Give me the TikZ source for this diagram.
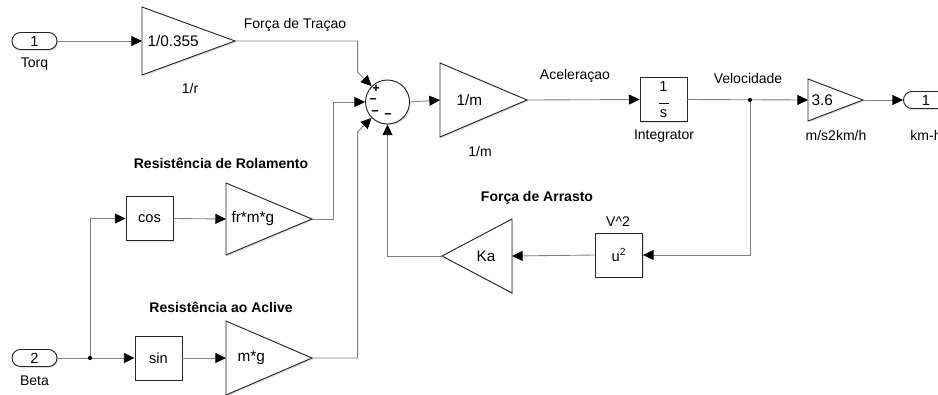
\documentclass[tikz,border=0pt]{standalone}
\usepackage{fontspec}
\setmainfont{Liberation Sans}
\usetikzlibrary{arrows.meta,shapes.misc,shadows,calc}

% ganho: nome, x, y, meia altura, comprimento, x do texto, texto
\newcommand{\gainblock}[7]{%
  \draw[blk] (#2,#3-#4) -- (#2+#5,#3) -- (#2,#3+#4) -- cycle;
  \coordinate (#1-in) at (#2,#3);
  \coordinate (#1-out) at (#2+#5,#3);
  \node[intxt, anchor=west] (#1) at (#6,#3) {#7};
}

\begin{document}
\begin{tikzpicture}[x=0.75pt, y=-0.75pt,
  >={Triangle[length=8pt, width=7.5pt, color=black]},
  sig/.style={draw=black!50, line width=0.65pt},
  blk/.style={draw=black!85, fill=white, line width=0.7pt,
    drop shadow={shadow xshift=1pt, shadow yshift=-1pt, fill=black!25}},
  lbl/.style={font=\fontsize{10.5}{12}\selectfont},
  ttl/.style={font=\fontsize{10.5}{12}\selectfont\bfseries},
  intxt/.style={font=\fontsize{11.5}{13}\selectfont, inner sep=1pt},
  box/.style={blk, minimum width=35.25pt, minimum height=33pt, inner sep=0pt,
    align=center, font=\fontsize{11}{12}\selectfont},
  port/.style={blk, rounded rectangle, minimum width=33.75pt, minimum height=12.75pt,
    inner sep=0pt, font=\fontsize{11}{12}\selectfont},
  sumblk/.style={blk, circle, minimum size=33pt, inner sep=0pt},
  sgn/.style={font=\fontsize{9.5}{10}\selectfont\bfseries, inner sep=0pt}]
\useasboundingbox (0,0) rectangle (938,394);

% portas
\node[port] (torq) at (34.5,41) {1};
\node[lbl] (torqlbl) at (34.5,64) {Torq};
\node[port] (beta) at (34.5,358) {2};
\node[lbl] (betalbl) at (34.5,381) {Beta};
\node[port] (kmh) at (926,100) {1};
\node[lbl] (kmhlbl) at (926,135) {km-h};

% ganhos
\gainblock{gr}{142}{41}{34}{93}{146}{1/0.355}
\node[lbl] (grlbl) at (190,88) {1/r};
\gainblock{gm}{440}{100}{37}{87}{455}{1/m}
\node[lbl] (gmlbl) at (480,151) {1/m};
\gainblock{gv}{808}{100}{21}{55}{810}{3.6}
\node[lbl] (gvlbl) at (836,135) {m/s2km/h};
\gainblock{gfr}{226}{219}{36}{86}{230}{fr*m*g}
\gainblock{gmg}{226}{358}{37}{86}{236}{m*g}
\gainblock{gka}{512}{256}{37}{-70}{475}{Ka}

% blocos
\node[box] (integ) at (663.5,99.5) {1\\[-3pt]\rule{7.5pt}{0.6pt}\\[-2pt]s};
\node[lbl] (integlbl) at (664,136) {Integrator};
\node[box] (cos) at (149.5,218.5) {cos};
\node[box] (sin) at (158.5,358) {sin};
\node[box] (usq) at (619,255) {u\textsuperscript{2}};
\node[lbl] (usqlbl) at (618,222) {V\textasciicircum 2};

% somador
\node[sumblk] (sum) at (387.5,102) {};
\node[sgn] (sp) at (376,89) {+};
\node[sgn] (sm1) at (373,101) {−};
\node[sgn] (sm2) at (375,113) {−};
\node[sgn] (sm3) at (388,116) {−};

% nomes dos sinais
\node[lbl] (ftr) at (295,25) {Força de Traçao};
\node[lbl] (acel) at (575,76) {Aceleraçao};
\node[lbl] (vel) at (748,78) {Velocidade};
\node[ttl] (rrol) at (221,163) {Resistência de Rolamento};
\node[ttl] (racl) at (221,307) {Resistência ao Aclive};
\node[ttl] (farr) at (537,198) {Força de Arrasto};

% ligacoes
\coordinate (vj) at (750,100);
\coordinate (bj) at (90,358);
\draw[sig,->] (torq.east) -- (gr-in);
\draw[sig,->] (gr-out) -| ($(sum.135)+(-14,-14)$) -- (sum.135);
\draw[sig,->] (gfr-out) -- ++(21,0) |- (sum.west);
\draw[sig,->] (gmg-out) -| ($(sum.225)+(-14,14)$) -- (sum.225);
\draw[sig,->] (gka-out) -| (sum.south);
\draw[sig,->] (sum.east) -- (gm-in);
\draw[sig,->] (gm-out) -- (integ.west);
\draw[sig,->] (integ.east) -- (gv-in);
\draw[sig,->] (gv-out) -- (kmh.west);
\draw[sig,->] (vj) |- (usq.east);
\draw[sig,->] (usq.west) -- (gka-in);
\draw[sig,->] (beta.east) -- (sin.west);
\draw[sig,->] (bj) |- (cos.west);
\draw[sig,->] (cos.east) -- (gfr-in);
\draw[sig,->] (sin.east) -- (gmg-in);
\fill (vj) circle (1.6pt);
\fill (bj) circle (1.6pt);
\end{tikzpicture}
\end{document}
